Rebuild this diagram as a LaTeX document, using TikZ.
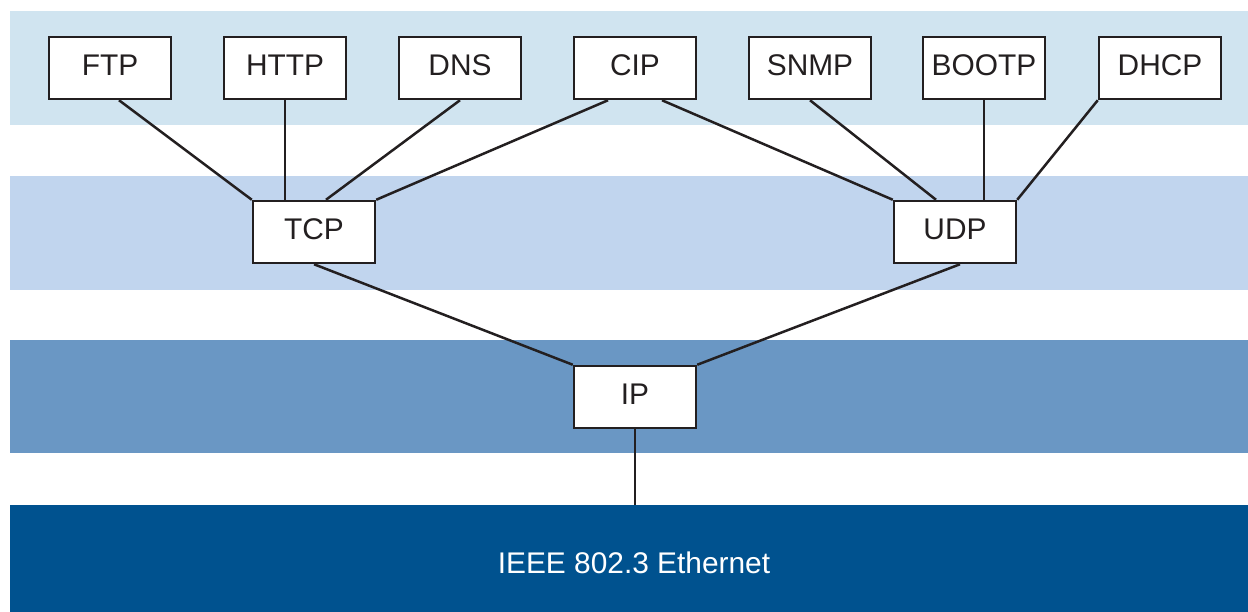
\documentclass[tikz,border=0pt]{standalone}
\usepackage{fontspec}
\setmainfont{Liberation Sans}
\definecolor{appband}{RGB}{208,228,240}
\definecolor{transband}{RGB}{193,213,238}
\definecolor{netband}{RGB}{106,151,196}
\definecolor{linkband}{RGB}{0,82,143}
\definecolor{inkblack}{RGB}{35,31,32}
\begin{document}
\begin{tikzpicture}[x=0.02cm, y=-0.02cm]
	\tikzstyle{Proto} = [rectangle, minimum width=2.44cm, minimum height=1.24cm, text depth=0.1cm, text centered, draw=inkblack, line width=0.05cm, fill=white, text=inkblack, font=\fontsize{17}{20}\selectfont]
	\tikzstyle{link} = [line width=0.05cm, draw=inkblack]
	
	\useasboundingbox (0,0) rectangle (1248,612);
	\fill [appband] (10,11) rectangle (1248,125);
	\fill [transband] (10,176) rectangle (1248,290);
	\fill [netband] (10,340) rectangle (1248,453);
	\fill [linkband] (10,505) rectangle (1248,612);
	
	\node (ftp) [Proto] at (110,68) {FTP};
	\node (http) [Proto] at (285,68) {HTTP};
	\node (dns) [Proto] at (460,68) {DNS};
	\node (cip) [Proto] at (635,68) {CIP};
	\node (snmp) [Proto] at (810,68) {SNMP};
	\node (bootp) [Proto] at (984,68) {BOOTP};
	\node (dhcp) [Proto] at (1160,68) {DHCP};
	\node (tcp) [Proto] at (314,232) {TCP};
	\node (udp) [Proto] at (955,232) {UDP};
	\node (ip) [Proto] at (635,397) {IP};
	\node (eth) [text=white, font=\fontsize{17}{20}\selectfont] at (634,563) {IEEE 802.3 Ethernet};
	\coordinate (ethtop) at (636,505);
	
	\draw [link] ([xshift=0.18cm]ftp.south) -- (tcp.north west);
	\draw [link] (http.south) -- (http.south |- tcp.north);
	\draw [link] (dns.south) -- ([xshift=0.24cm]tcp.north);
	\draw [link] ([xshift=-0.54cm]cip.south) -- (tcp.north east);
	\draw [link] ([xshift=0.54cm]cip.south) -- (udp.north west);
	\draw [link] (snmp.south) -- ([xshift=-0.38cm]udp.north);
	\draw [link] (bootp.south) -- (bootp.south |- udp.north);
	\draw [link] (dhcp.south west) -- (udp.north east);
	\draw [link] (tcp.south) -- (ip.north west);
	\draw [link] ([xshift=0.1cm]udp.south) -- (ip.north east);
	\draw [link] (ip.south) -- (ip.south |- ethtop);
\end{tikzpicture}
\end{document}
